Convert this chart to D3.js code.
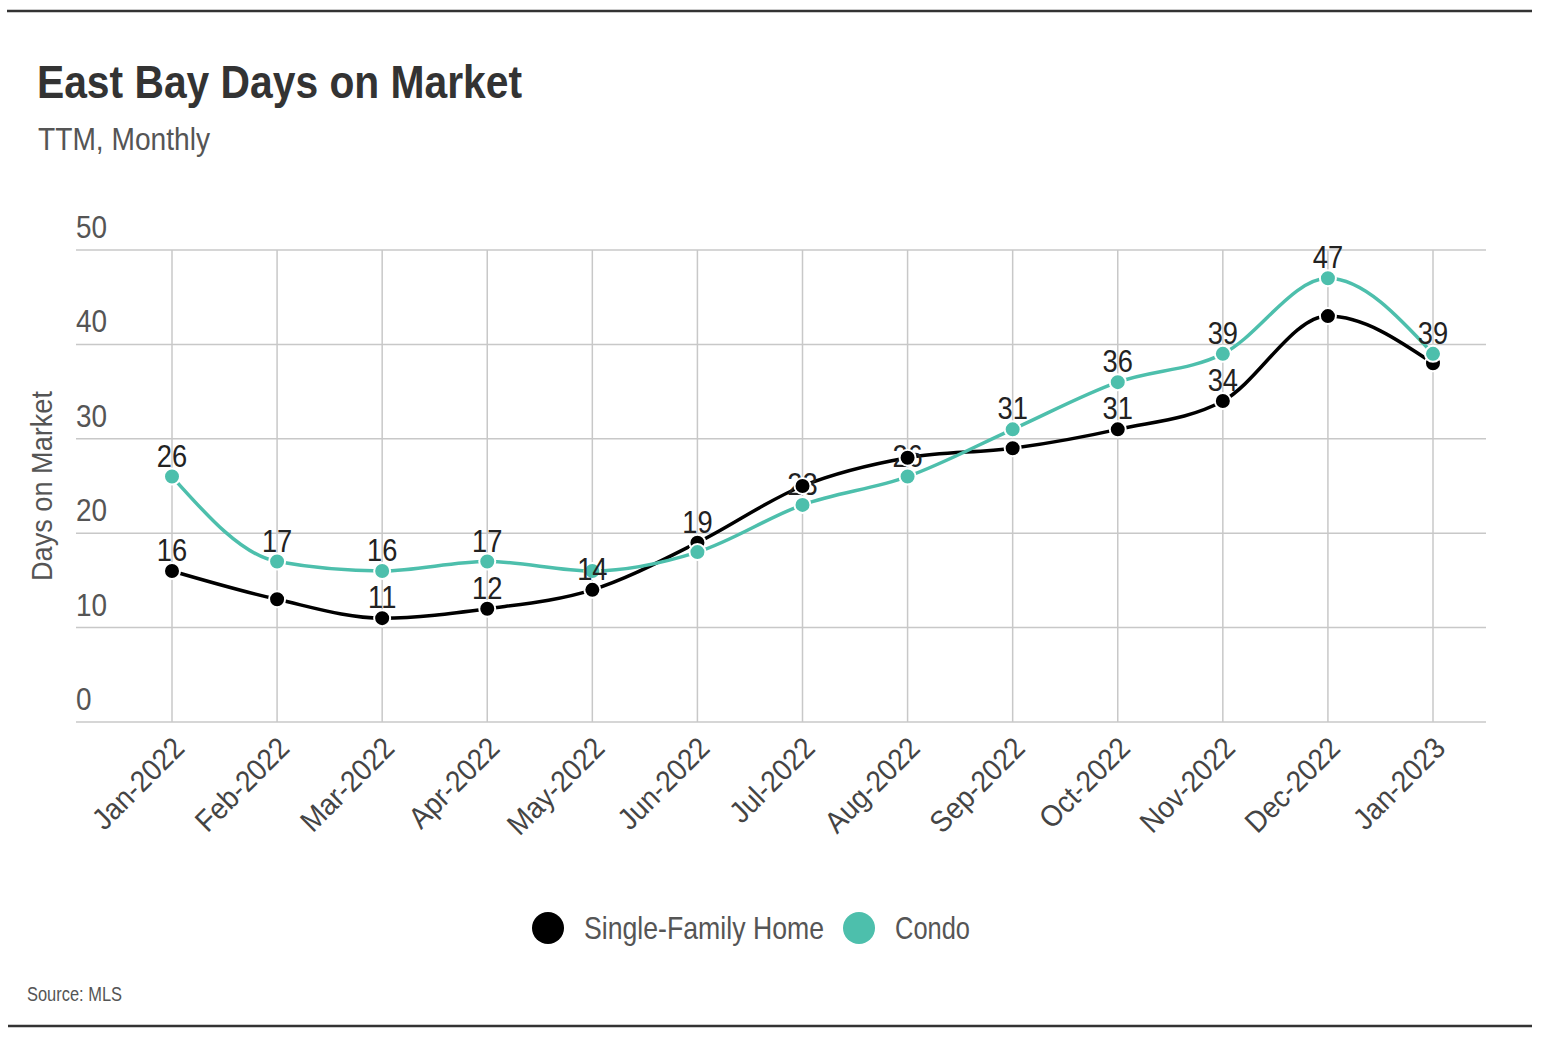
<!DOCTYPE html>
<html><head><meta charset="utf-8">
<script src="https://cdn.jsdelivr.net/npm/d3@7"></script>
<style>
body{margin:0;background:#fff;}
svg text{font-family:"Liberation Sans","DejaVu Sans",sans-serif;}
</style></head>
<body><svg id="c" width="1544" height="1042"></svg>
<script>
const months = ["Jan-2022","Feb-2022","Mar-2022","Apr-2022","May-2022","Jun-2022","Jul-2022","Aug-2022","Sep-2022","Oct-2022","Nov-2022","Dec-2022","Jan-2023"];
const singleFamily = [16,13,11,12,14,19,25,28,29,31,34,43,38];
const condo = [26,17,16,17,16,18,23,26,31,36,39,47,39];
const singleFamilyShowLabel = [true,false,true,true,true,true,false,false,false,true,true,false,false];
const condoShowLabel = [true,true,true,true,false,false,true,true,true,true,true,true,true];
const yTicks = [0,10,20,30,40,50];
const seriesNames = ["Single-Family Home","Condo"];
const seriesColors = ["#000000","#4dbfac"];

const svg = d3.select("#c");
const x = d3.scalePoint().domain(months).range([172,1433]);
const y = d3.scaleLinear().domain([0,50]).range([722,250]);
const plotL = 76, plotR = 1486;

function squeeze(sel, f){
  sel.each(function(){
    const w = this.getComputedTextLength();
    d3.select(this).attr("textLength", w*f).attr("lengthAdjust","spacingAndGlyphs");
  });
  return sel;
}

svg.append("line").attr("x1",7).attr("x2",1532).attr("y1",11).attr("y2",11).attr("stroke","#333").attr("stroke-width",2.5);
svg.append("line").attr("x1",8).attr("x2",1532).attr("y1",1026).attr("y2",1026).attr("stroke","#333").attr("stroke-width",2.5);

svg.append("text").attr("x",37).attr("y",98).text("East Bay Days on Market")
  .attr("font-size",46).attr("font-weight","bold").attr("fill","#333")
  .attr("textLength",485).attr("lengthAdjust","spacingAndGlyphs");
svg.append("text").attr("x",38).attr("y",150).text("TTM, Monthly")
  .attr("font-size",31).attr("fill","#555")
  .attr("textLength",172).attr("lengthAdjust","spacingAndGlyphs");

const g = svg.append("g");
g.selectAll(".hg").data(yTicks).join("line")
  .attr("x1",plotL).attr("x2",plotR).attr("y1",d=>y(d)).attr("y2",d=>y(d))
  .attr("stroke","#c8c8c8").attr("stroke-width",1.5);
g.selectAll(".vg").data(months).join("line")
  .attr("x1",d=>x(d)).attr("x2",d=>x(d)).attr("y1",y(50)).attr("y2",y(0))
  .attr("stroke","#c8c8c8").attr("stroke-width",1.5);
squeeze(g.selectAll(".yt").data(yTicks).join("text")
  .attr("x",plotL).attr("y",d=>y(d)-12).text(d=>d)
  .attr("font-size",31).attr("fill","#555"), 0.9);
svg.append("text").attr("transform","translate(52,486) rotate(-90)")
  .attr("text-anchor","middle").text("Days on Market").attr("font-size",30).attr("fill","#555")
  .attr("textLength",190).attr("lengthAdjust","spacingAndGlyphs");
squeeze(g.selectAll(".xt").data(months).join("text")
  .attr("transform",d=>`translate(${x(d)+14},${y(0)+28}) rotate(-45)`)
  .attr("text-anchor","end").text(d=>d).attr("font-size",30).attr("fill","#444"), 0.92);

const line = d3.line().x((d,i)=>x(months[i])).y(d=>y(d)).curve(d3.curveMonotoneX);
svg.append("path").attr("d",line(singleFamily)).attr("fill","none").attr("stroke",seriesColors[0]).attr("stroke-width",3.5);
svg.append("path").attr("d",line(condo)).attr("fill","none").attr("stroke",seriesColors[1]).attr("stroke-width",3.5);

function labels(vals,show){
  squeeze(svg.append("g").selectAll("text").data(vals).join("text")
    .attr("x",(d,i)=>x(months[i])).attr("y",d=>y(d)-10)
    .attr("text-anchor","middle").attr("font-size",31).attr("fill","#222")
    .attr("display",(d,i)=>show[i]?null:"none").text(d=>d), 0.88);
}
function dots(vals,color){
  svg.append("g").selectAll("circle").data(vals).join("circle")
    .attr("cx",(d,i)=>x(months[i])).attr("cy",d=>y(d)).attr("r",8)
    .attr("fill",color).attr("stroke","#fff").attr("stroke-width",2);
}
labels(condo,condoShowLabel);
dots(singleFamily,seriesColors[0]);
dots(condo,seriesColors[1]);
labels(singleFamily,singleFamilyShowLabel);

const leg = svg.append("g");
const legX = [548,859];
const legW = [240,75];
seriesNames.forEach((n,i)=>{
  leg.append("circle").attr("cx",legX[i]).attr("cy",928).attr("r",16).attr("fill",seriesColors[i]);
  leg.append("text").attr("x",legX[i]+36).attr("y",939).text(n).attr("font-size",32).attr("fill","#555")
    .attr("textLength",legW[i]).attr("lengthAdjust","spacingAndGlyphs");
});
svg.append("text").attr("x",27).attr("y",1001).text("Source: MLS").attr("font-size",20).attr("fill","#555")
  .attr("textLength",95).attr("lengthAdjust","spacingAndGlyphs");
</script></body></html>
